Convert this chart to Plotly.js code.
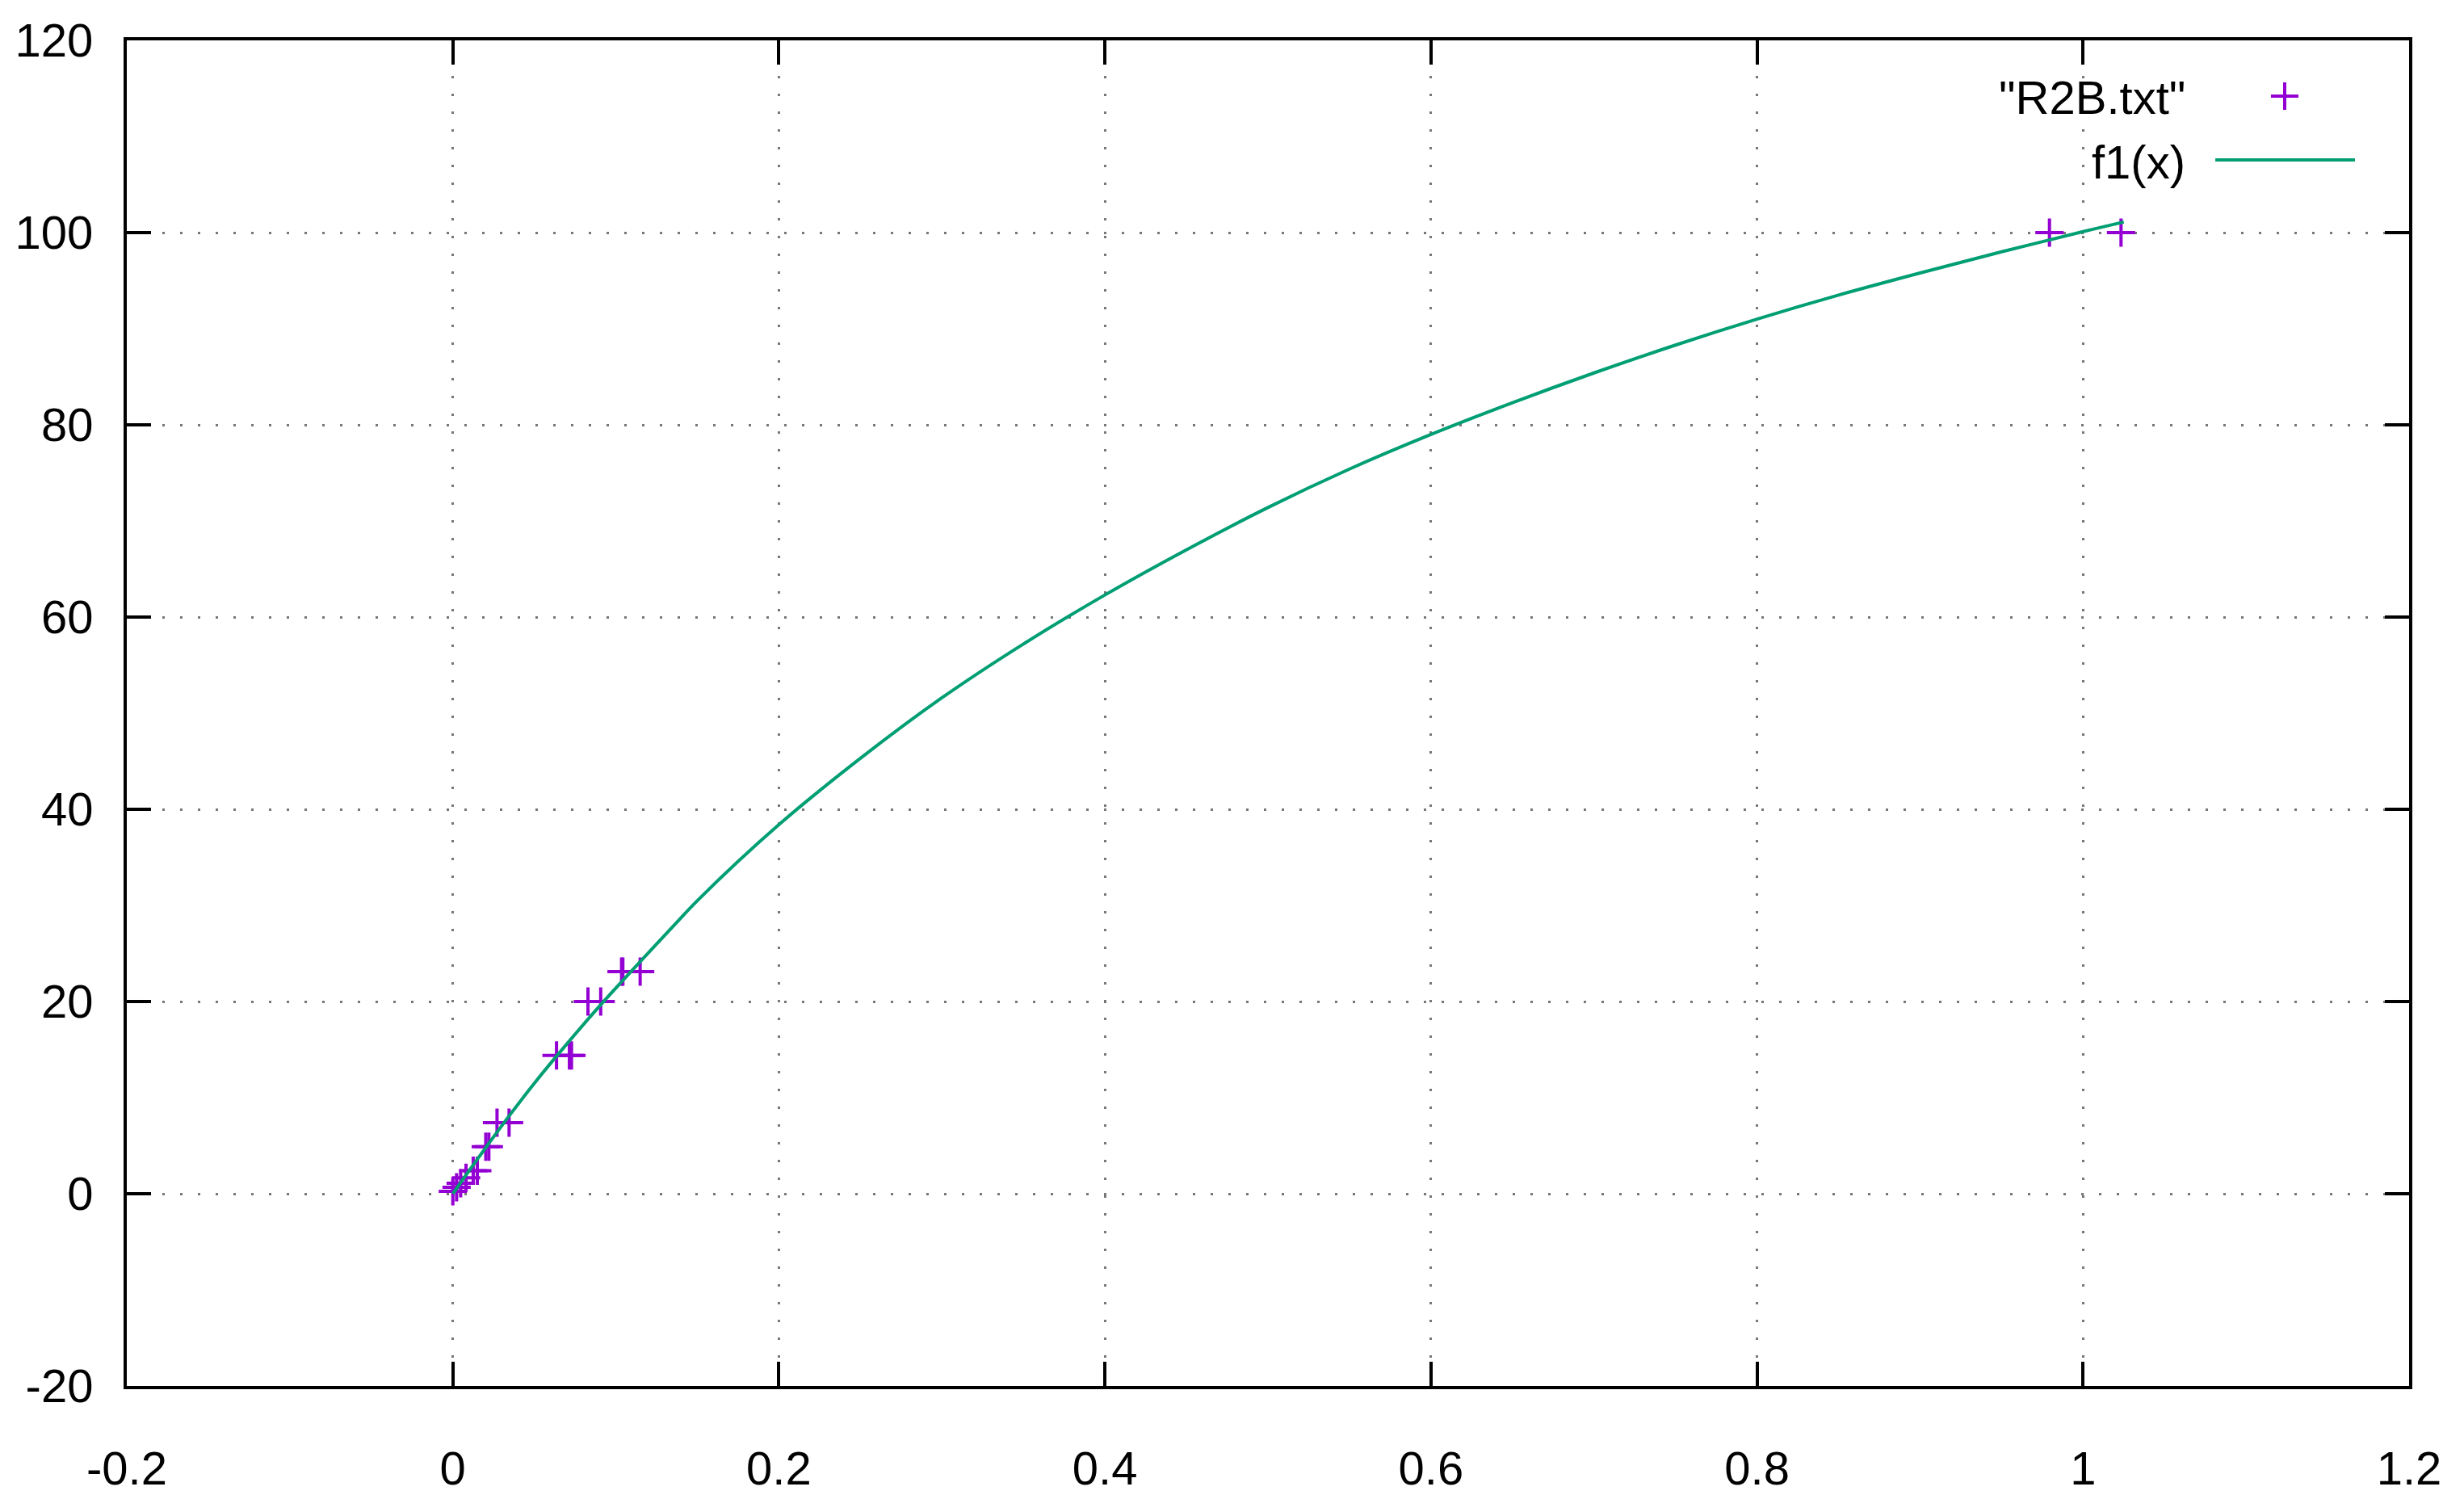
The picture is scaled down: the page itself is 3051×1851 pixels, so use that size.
<!DOCTYPE html>
<html>
<head>
<meta charset="utf-8">
<script src="https://cdn.plot.ly/plotly-3.0.1.min.js"></script>
<style>
  html, body { margin: 0; padding: 0; background: #fff; }
  #plot { width: 3051px; height: 1851px; }
</style>
</head>
<body>
<div id="plot"></div>
<script>
// measured points from "R2B.txt"
var dataX = [0.0, 0.0023, 0.0048, 0.0081, 0.0125, 0.015, 0.0202, 0.0221,
             0.0271, 0.0345, 0.0636, 0.0715, 0.0728, 0.0829, 0.0907,
             0.1035, 0.1043, 0.1149, 0.9794, 1.0233];
var dataY = [0.25, 0.67, 1.1, 1.65, 2.4, 2.4, 4.9, 4.9,
             7.4, 7.4, 14.4, 14.4, 14.4, 20.0, 20.0,
             23.1, 23.1, 23.1, 100.0, 100.0];

// fitted curve f1(x)
var fitX = [0, 0.01, 0.02, 0.035, 0.05, 0.07, 0.092, 0.135, 0.15, 0.2,
            0.25, 0.3, 0.35, 0.4, 0.45, 0.5, 0.55, 0.6, 0.65, 0.7,
            0.75, 0.8, 0.85, 0.9, 0.95, 1.0, 1.025];
var fitY = [0, 2.4, 4.75, 8.2, 11.5, 15.6, 19.9, 27.8, 30.5, 38.4,
            45.3, 51.6, 57.2, 62.3, 67.0, 71.4, 75.4, 79.0, 82.3, 85.4,
            88.3, 91.0, 93.5, 95.8, 98.0, 100.1, 101.1];

var xTickVals = [-0.2, 0, 0.2, 0.4, 0.6, 0.8, 1, 1.2];
var xTickText = ["-0.2", "0", "0.2", "0.4", "0.6", "0.8", "1", "1.2"];
var yTickVals = [-20, 0, 20, 40, 60, 80, 100, 120];
var yTickText = ["-20", "0", "20", "40", "60", "80", "100", "120"];

var legendNames = ['"R2B.txt"', 'f1(x)'];

var purple = '#9400d3';
var green = '#009e73';
var fontFamily = 'Liberation Sans, Arial, sans-serif';

var traces = [
  {
    x: dataX, y: dataY,
    type: 'scatter', mode: 'markers',
    marker: {symbol: 'cross-thin', size: 25, color: purple, line: {width: 4, color: purple}},
    name: legendNames[0]
  },
  {
    x: fitX, y: fitY,
    type: 'scatter', mode: 'lines',
    line: {color: green, width: 4, shape: 'spline', smoothing: 1},
    name: legendNames[1]
  }
];

var axisCommon = {
  showline: true, linecolor: '#000', linewidth: 4, mirror: 'ticks',
  ticks: 'inside', ticklen: 30, tickwidth: 4, tickcolor: '#000',
  showgrid: true, gridcolor: '#777', gridwidth: 3, griddash: '3px,19px',
  zeroline: false, tickmode: 'array',
  tickfont: {family: fontFamily, size: 58, color: '#000'}
};

var layout = {
  width: 3051, height: 1851,
  margin: {l: 157, r: 68, t: 50, b: 135},
  paper_bgcolor: '#fff', plot_bgcolor: '#fff',
  showlegend: false,
  xaxis: Object.assign({}, axisCommon, {
    range: [-0.2, 1.2], tickvals: xTickVals, ticktext: xTickText,
    ticklabelstandoff: 48
  }),
  yaxis: Object.assign({}, axisCommon, {
    range: [-20, 120], tickvals: yTickVals, ticktext: yTickText,
    ticklabelstandoff: 26
  }),
  annotations: [
    {xref: 'paper', yref: 'paper', x: 0.9027, y: 0.9575, xanchor: 'right', yanchor: 'middle',
     text: legendNames[0], showarrow: false,
     font: {family: fontFamily, size: 58, color: '#000'}},
    {xref: 'paper', yref: 'paper', x: 0.9027, y: 0.9094, xanchor: 'right', yanchor: 'middle',
     text: legendNames[1], showarrow: false,
     font: {family: fontFamily, size: 58, color: '#000'}}
  ],
  shapes: [
    // legend "+" sample
    {type: 'line', xref: 'paper', yref: 'paper', xsizemode: 'pixel', ysizemode: 'pixel',
     xanchor: 0.9455, yanchor: 0.9586, x0: -17, x1: 17, y0: 0, y1: 0,
     line: {color: purple, width: 4}},
    {type: 'line', xref: 'paper', yref: 'paper', xsizemode: 'pixel', ysizemode: 'pixel',
     xanchor: 0.9455, yanchor: 0.9586, x0: 0, x1: 0, y0: -17, y1: 17,
     line: {color: purple, width: 4}},
    // legend line sample
    {type: 'line', xref: 'paper', yref: 'paper', x0: 0.9151, x1: 0.9763, y0: 0.9112, y1: 0.9112,
     line: {color: green, width: 4}}
  ]
};

Plotly.newPlot('plot', traces, layout, {staticPlot: true});
</script>
</body>
</html>
